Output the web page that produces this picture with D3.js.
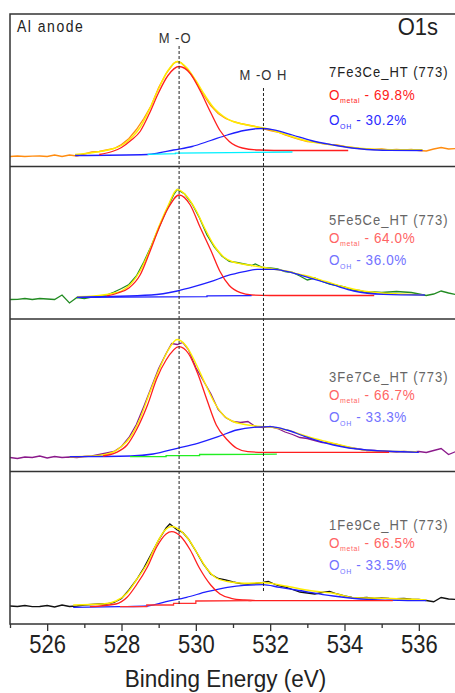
<!DOCTYPE html>
<html>
<head>
<meta charset="utf-8">
<script src="https://cdn.jsdelivr.net/npm/d3@7"></script>
<style>
  html, body { margin: 0; padding: 0; background: #fff; }
  svg { display: block; font-family: "Liberation Sans", Arial, sans-serif; }
</style>
</head>
<body>
<svg id="chart" width="455" height="693"></svg>
<script>
// ---- O1s XPS spectra, four Fe/Ce samples (intensity in a.u. per panel) ----
const energyTicks = [526, 528, 530, 532, 534, 536];
const energyMinor = [525, 527, 529, 531, 533, 535, 537];
const sampleNames = ["7Fe3Ce_HT (773)", "5Fe5Ce_HT (773)", "3Fe7Ce_HT (773)", "1Fe9Ce_HT (773)"];
const metalShare = ["69.8%", "64.0%", "66.7%", "66.5%"];
const ohShare = ["30.2%", "36.0%", "33.3%", "33.5%"];
const peakLabels = ["M -O", "M -O H"];
const peakEnergies = [529.55, 531.82];

// measured spectra [binding energy, intensity]
const raw1 = [[525.0,10],[525.2,10.5],[525.4,10],[525.6,10.3],[525.8,10.5],[526.0,10],[526.2,11.5],[526.4,10],[526.6,11.5],[526.8,10.5],[527.0,12.5],[527.2,14.5],[527.4,15],[527.6,16.5],[527.8,18],[528.0,22],[528.2,28],[528.4,37],[528.6,48],[528.8,61],[529.0,79],[529.2,93],[529.4,103],[529.5,105],[529.6,104],[529.8,96],[530.0,85],[530.2,72],[530.4,61],[530.6,53],[530.8,48],[531.0,45],[531.2,43],[531.4,41.5],[531.6,40],[531.8,38],[532.0,36],[532.2,34.5],[532.4,31.5],[532.6,29],[532.8,27],[533.0,25],[533.2,24.5],[533.4,23],[533.6,22],[533.8,21.5],[534.0,20],[534.2,19],[534.4,18],[534.6,17.5],[534.8,17],[535.0,17.5],[535.2,16.5],[535.4,17],[535.6,16.5],[535.8,17],[536.0,16],[536.2,15.5],[536.4,17.5],[536.6,19],[536.8,17.5],[537.0,18]];
const raw2 = [[525.0,19.5],[525.2,19.7],[525.4,20.5],[525.6,19.5],[525.8,20.5],[526.0,20],[526.2,19.5],[526.4,24],[526.6,16],[526.8,21.5],[527.0,20.5],[527.2,22],[527.4,22],[527.6,24],[527.8,27],[528.0,30.5],[528.2,34.5],[528.4,43],[528.6,57],[528.8,73],[529.0,91],[529.2,108],[529.4,124],[529.5,129.5],[529.7,125],[529.9,115],[530.1,101],[530.3,84],[530.5,72],[530.7,63],[530.9,57.5],[531.1,56.5],[531.3,55],[531.5,53.5],[531.6,55],[531.8,51.5],[532.0,51],[532.2,50],[532.4,47.5],[532.6,46.5],[532.8,43],[533.0,39],[533.2,41],[533.4,37.5],[533.6,35],[533.8,33.5],[534.0,32],[534.2,29],[534.4,28.5],[534.6,26.5],[534.8,27],[535.0,26.5],[535.2,27],[535.4,27.5],[535.6,27],[535.8,26.5],[536.0,25],[536.2,23.5],[536.4,25],[536.6,28],[536.8,26],[537.0,24.5]];
const raw3 = [[525.0,14],[525.2,13],[525.4,14.5],[525.6,14],[525.8,15.5],[526.0,13.5],[526.2,15],[526.4,14],[526.6,14.5],[526.8,14],[527.0,15],[527.2,15.5],[527.4,17],[527.6,18.5],[527.8,20],[528.0,25],[528.2,34],[528.4,47],[528.6,65],[528.8,84],[529.0,103],[529.2,118],[529.35,128],[529.5,127],[529.65,129],[529.8,122],[530.0,104],[530.2,91],[530.4,78],[530.6,62],[530.8,54],[531.0,50],[531.2,49],[531.4,50],[531.6,45],[531.8,44],[532.0,45],[532.2,43],[532.4,39.5],[532.6,37],[532.8,34],[533.0,33],[533.2,31],[533.4,29],[533.6,28.5],[533.8,27],[534.0,25],[534.2,23.5],[534.4,22.5],[534.6,21],[534.8,21],[535.0,20.5],[535.2,20],[535.4,19.5],[535.6,20],[535.8,19.5],[536.0,20],[536.2,19],[536.4,21],[536.6,23],[536.8,17],[537.0,20]];
const raw4 = [[525.0,18],[525.2,17.5],[525.4,18.5],[525.6,17.3],[525.8,17.5],[526.0,18.5],[526.2,17],[526.4,19],[526.6,17.5],[526.8,18],[527.0,19],[527.2,19.5],[527.4,20],[527.6,20],[527.8,21.5],[528.0,25.5],[528.2,34],[528.4,44],[528.6,56],[528.8,70],[529.0,84],[529.2,96],[529.3,100],[529.5,94],[529.65,91.5],[529.8,85],[530.0,73],[530.2,60],[530.4,50],[530.6,45.5],[530.8,44],[531.0,42],[531.2,40.5],[531.4,40],[531.6,40.5],[531.8,41.5],[531.95,42.5],[532.2,38.5],[532.4,37],[532.6,34.5],[532.8,32],[533.0,31],[533.2,30],[533.4,31.5],[533.6,32.5],[533.8,30],[534.0,28],[534.2,26.5],[534.4,26],[534.6,26.5],[534.8,25.5],[535.0,26],[535.2,25.5],[535.4,25.3],[535.6,25.5],[535.8,24.8],[536.0,24.5],[536.2,23.5],[536.4,22.3],[536.6,26.5],[536.8,25],[537.0,24.5]];

// fitted envelopes
const env1 = [[526.75,12],[527.25,14],[527.75,17.5],[528.0,21],[528.25,28],[528.5,39],[528.75,57],[529.0,78],[529.25,96],[529.5,105],[529.75,99],[530.0,86],[530.25,71],[530.5,58],[530.75,50],[531.0,45],[531.25,42.5],[531.5,40.5],[531.75,39],[532.0,37],[532.25,34],[532.5,31],[532.75,28],[533.0,25.5],[533.5,22.5],[534.0,20],[534.5,18],[535.0,17],[535.5,16.8],[536.1,16.7]];
const env2 = [[526.8,22.3],[527.25,23],[527.75,25.5],[528.0,28],[528.25,35],[528.5,48],[528.75,68],[529.0,92],[529.25,113],[529.5,129.5],[529.75,123],[530.0,109],[530.25,90],[530.5,73],[530.75,62],[531.0,57],[531.25,55],[531.5,53.5],[531.75,52],[532.0,50.5],[532.25,49],[532.5,47.5],[532.75,45],[533.0,43],[533.5,37.5],[534.0,32],[534.5,28],[535.0,26],[535.5,25],[536.13,24]];
const env3 = [[526.6,14.8],[527.25,15.5],[527.75,19],[528.0,25],[528.25,35],[528.5,53],[528.75,78],[529.0,101],[529.25,121],[529.5,132],[529.75,125],[530.0,108],[530.25,88],[530.5,69],[530.75,56],[531.0,50],[531.25,47.5],[531.5,46],[531.75,45],[532.0,44.5],[532.25,43],[532.5,41],[532.75,38],[533.0,35],[533.5,30],[534.0,25.5],[534.5,21.5],[535.0,20.5],[535.5,20],[535.95,19.8]];
const env4 = [[526.7,19],[527.5,20],[527.85,23],[528.15,31],[528.4,44],[528.7,61],[528.95,80.7],[529.15,93],[529.35,97.5],[529.6,93],[529.8,85],[530.05,70],[530.3,55],[530.55,46],[530.85,42.5],[531.3,40.7],[531.85,41.3],[532.4,38],[533.1,33.3],[533.7,30.7],[534.25,26.3],[535.05,25.7],[536.2,24]];

// lattice oxygen component (O metal)
const metal1 = [[527.4,12],[527.75,15],[528.0,19],[528.25,26],[528.5,35],[528.75,53],[529.0,74],[529.25,91],[529.55,100],[529.85,93],[530.1,77],[530.4,54],[530.65,36],[530.9,25],[531.25,18.5],[531.7,16.5],[532.5,16],[534.1,16]];
const metal2 = [[527.6,23],[527.9,26],[528.2,31],[528.5,44],[528.75,66],[529.0,90],[529.25,110.5],[529.55,124],[529.85,114],[530.1,93],[530.4,69],[530.65,47.5],[530.9,33.5],[531.2,26.3],[531.5,24],[532.0,23.5],[534.8,23.5]];
const metal3 = [[527.5,15.5],[527.85,18.8],[528.15,26.5],[528.4,41.5],[528.7,66.5],[528.95,93],[529.2,111.5],[529.55,124.8],[529.8,118],[530.05,98],[530.3,71.5],[530.55,46.5],[530.85,31.5],[531.1,23.2],[531.4,19.8],[531.8,19.2],[535.2,19.2]];
const metal4 = [[527.15,17.3],[527.85,20],[528.15,26.7],[528.4,39],[528.7,57.3],[528.95,77.3],[529.2,90],[529.35,92.3],[529.6,87.3],[529.85,74],[530.1,55.7],[530.4,39],[530.65,30],[530.95,25.7],[531.3,24],[531.8,23.3],[535.3,23.3]];

// hydroxyl component (O OH)
const oh1 = [[526.75,11],[528.7,12],[529.0,13.5],[529.4,16.5],[529.9,20],[530.4,26],[530.85,31.5],[531.3,36],[531.75,38],[532.1,36.7],[532.6,31.5],[533.1,26],[533.7,21.5],[534.2,18.5],[534.6,17],[535.2,16.2],[536.1,16]];
const oh2 = [[526.8,21.7],[528.8,24],[529.5,28],[529.95,32.3],[530.4,37.3],[530.85,43.3],[531.3,47.3],[531.65,49.7],[532.1,49.7],[532.65,45.7],[533.1,40.7],[533.7,34],[534.25,28],[535.05,24.7],[536.16,24]];
const oh3 = [[526.6,14.8],[528.25,15.5],[528.85,17.5],[529.5,23.2],[530.05,28.2],[530.6,34.8],[531.1,41.5],[531.55,44.2],[532.0,44.8],[532.45,41.5],[532.9,35.5],[533.7,26.5],[534.6,21.5],[536.0,19.2]];
const oh4 = [[526.7,16.7],[527.95,17.3],[528.7,18],[529.2,22.3],[529.75,26.7],[530.3,32.3],[530.85,36.7],[531.3,38.7],[531.8,39.3],[532.25,36.7],[532.7,34],[533.7,28],[534.6,24.7],[536.2,23.3]];

// Shirley background sections
const bg1 = [[528.7,12.2],[529.45,12.8],[529.45,13.4],[532.6,14.5]];
const bg2 = [[526.8,21.7],[530.3,22.3],[530.3,23.2],[531.5,23.4]];
const bg3 = [[528.23,14.8],[529.2,14.8],[529.2,15.8],[530.1,15.8],[530.1,17],[532.18,17.3]];
const bg4 = [[527.96,17.3],[528.68,17.3],[528.68,19],[529.4,19],[529.4,20.7],[530.0,20.7],[530.0,23],[531.5,23.3]];

const panels = [
  { raw: raw1, env: env1, metal: metal1, oh: oh1, bg: bg1, rawColor: "#ff8c10", bgColor: "#00f0ff", dark: true },
  { raw: raw2, env: env2, metal: metal2, oh: oh2, bg: bg2, rawColor: "#228b22", bgColor: "#2020ff", dark: false },
  { raw: raw3, env: env3, metal: metal3, oh: oh3, bg: bg3, rawColor: "#8b1a8b", bgColor: "#22ee22", dark: false },
  { raw: raw4, env: env4, metal: metal4, oh: oh4, bg: bg4, rawColor: "#111111", bgColor: "#ff3030", dark: false }
];

// ---- layout ----
const frame = { left: 10, right: 456, top: 14, bottom: 624 };
const panelH = (frame.bottom - frame.top) / panels.length;
const legendRows = [[63, 86, 111], [58.5, 76.5, 98.5], [63, 81, 103], [58.5, 76.5, 98.5]];
const stretch = 1.12;   // text is slightly taller than wide

const svg = d3.select("#chart");
const x = d3.scaleLinear().domain([525, 537]).range([frame.left, frame.right]);

const lineGen = (y, curve) => d3.line().x(d => x(d[0])).y(d => y(d[1])).curve(curve);

// text placed at (tx, ty) baseline, stretched vertically
function label(tx, ty, size, fill, str, opts = {}) {
  const t = svg.append("text")
    .attr("transform", `translate(${tx},${ty}) scale(1,${opts.stretch || stretch})`)
    .attr("font-size", size).attr("fill", fill)
    .attr("text-anchor", opts.anchor || "start")
    .attr("letter-spacing", opts.spacing || 0);
  if (str !== null) t.text(str);
  return t;
}

svg.append("clipPath").attr("id", "plotClip")
  .append("rect").attr("x", frame.left).attr("y", frame.top)
  .attr("width", frame.right - frame.left).attr("height", frame.bottom - frame.top);

panels.forEach((p, i) => {
  const top = frame.top + i * panelH;
  const bottom = top + panelH;
  const y = d3.scaleLinear().domain([0, 152.5]).range([bottom, top]);
  const g = svg.append("g").attr("clip-path", "url(#plotClip)");

  g.append("path").datum(p.raw).attr("fill", "none").attr("stroke", p.rawColor)
    .attr("stroke-width", 1.3).attr("d", lineGen(y, d3.curveLinear));
  g.append("path").datum(p.env).attr("fill", "none").attr("stroke", "#ffee00")
    .attr("stroke-width", 1.4).attr("d", lineGen(y, d3.curveMonotoneX));
  g.append("path").datum(p.oh).attr("fill", "none").attr("stroke", "#1f1fff")
    .attr("stroke-width", 1.3).attr("d", lineGen(y, d3.curveMonotoneX));
  g.append("path").datum(p.metal).attr("fill", "none").attr("stroke", "#ff1f1f")
    .attr("stroke-width", 1.3).attr("d", lineGen(y, d3.curveMonotoneX));
  g.append("path").datum(p.bg).attr("fill", "none").attr("stroke", p.bgColor)
    .attr("stroke-width", 1.3).attr("d", lineGen(y, d3.curveLinear));

  // sample legend
  const lx = 329;
  const rows = legendRows[i];
  const titleColor = p.dark ? "#222" : "#666";
  const redColor = p.dark ? "#ff1a1a" : "#ff6464";
  const blueColor = p.dark ? "#2a2aff" : "#7272ff";
  label(lx, top + rows[0], 13, titleColor, sampleNames[i], { spacing: 1 });

  const t1 = label(lx, top + rows[1], 13.5, redColor, null, { spacing: 0.6 });
  t1.append("tspan").text("O");
  t1.append("tspan").attr("font-size", 7).attr("dy", 3).text("metal");
  t1.append("tspan").attr("dy", -3).text(" - " + metalShare[i]);

  const t2 = label(lx, top + rows[2], 13.5, blueColor, null, { spacing: 0.6 });
  t2.append("tspan").text("O");
  t2.append("tspan").attr("font-size", 7).attr("dy", 3.5).text("OH");
  t2.append("tspan").attr("dy", -3.5).text("   - " + ohShare[i]);
});

// peak position markers
const markerSpan = [[46, 606], [88, 592]];
peakEnergies.forEach((e, k) => {
  svg.append("line").attr("x1", x(e)).attr("x2", x(e))
    .attr("y1", markerSpan[k][0]).attr("y2", markerSpan[k][1])
    .attr("stroke", "#222").attr("stroke-width", 1).attr("stroke-dasharray", "3,2");
});
label(x(peakEnergies[0]) - 4, 43, 13, "#333", peakLabels[0], { anchor: "middle", spacing: 1 });
label(x(peakEnergies[1]), 80, 13, "#333", peakLabels[1], { anchor: "middle", spacing: 1 });

// frame and panel separators
const frameColor = "#333";
svg.append("rect").attr("x", frame.left).attr("y", frame.top)
  .attr("width", frame.right - frame.left).attr("height", frame.bottom - frame.top)
  .attr("fill", "none").attr("stroke", frameColor).attr("stroke-width", 1.5);
for (let i = 1; i < panels.length; i++) {
  const yy = frame.top + i * panelH;
  svg.append("line").attr("x1", frame.left).attr("x2", frame.right)
    .attr("y1", yy).attr("y2", yy).attr("stroke", frameColor).attr("stroke-width", 1.5);
}

// bottom energy axis
const axis = d3.axisBottom(x).tickValues(energyTicks).tickSize(7).tickPadding(3)
  .tickFormat(d3.format("d"));
const axG = svg.append("g").attr("transform", `translate(0,${frame.bottom})`).call(axis);
axG.select(".domain").remove();
axG.selectAll("line").attr("stroke", frameColor).attr("stroke-width", 1.3);
axG.selectAll("text").attr("font-size", 22).attr("fill", "#222")
  .attr("font-family", "\"Liberation Sans\", Arial, sans-serif")
  .attr("transform", "scale(1,1.15)");
const minorG = svg.append("g").attr("transform", `translate(0,${frame.bottom})`)
  .call(d3.axisBottom(x).tickValues(energyMinor).tickSize(4).tickFormat(""));
minorG.select(".domain").remove();
minorG.selectAll("line").attr("stroke", frameColor).attr("stroke-width", 1.3);

label(225.5, 687, 22.5, "#222", "Binding Energy (eV)", { anchor: "middle", stretch: 1.1 });

// corner annotations
label(17, 32, 14, "#222", "Al anode", { spacing: 1.5 });
label(438, 35, 22, "#222", "O1s", { anchor: "end", stretch: 1.08 });
</script>
</body>
</html>
